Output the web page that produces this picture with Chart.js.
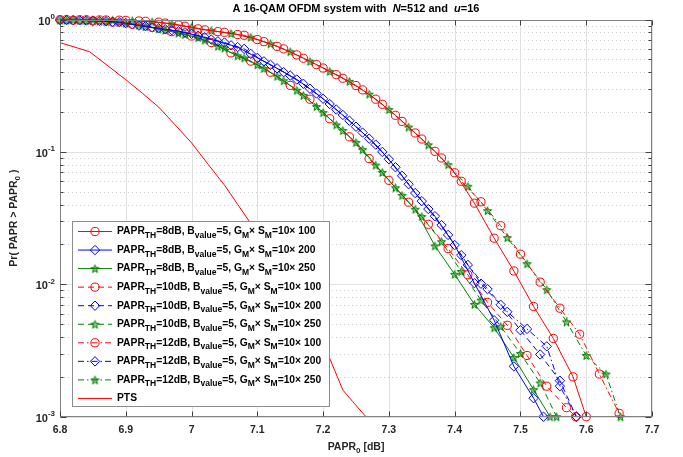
<!DOCTYPE html>
<html><head><meta charset="utf-8">
<script src="https://cdn.jsdelivr.net/npm/chart.js@4/dist/chart.umd.min.js"></script>
<style>html,body{margin:0;padding:0;background:#fff;}#wrap{width:683px;height:457px;}</style>
</head><body><div id="wrap"><canvas id="c" width="683" height="457"></canvas></div>
<script>
// ---------- data ----------
const xTicks = [6.8, 6.9, 7.0, 7.1, 7.2, 7.3, 7.4, 7.5, 7.6, 7.7];
const xTickLabels = ['6.8', '6.9', '7', '7.1', '7.2', '7.3', '7.4', '7.5', '7.6', '7.7'];
const yDecades = [1, 0.1, 0.01, 0.001];
const yDecadeExps = ['0', '-1', '-2', '-3'];
const yMinorMult = [2, 3, 4, 5, 6, 7, 8, 9];

// PAPR_TH = 8 dB, 10x100 (red solid, circles)
const x1 = [6.80,6.83,6.86,6.89,6.92,6.95,6.98,7.01,7.04,7.07,7.10,7.13,7.16,7.19,7.22,7.25,7.28,7.31,7.34,7.37,7.40,7.43,7.46,7.49,7.52,7.55,7.58,7.60];
const y1 = [0.998,0.996,0.993,0.988,0.975,0.955,0.91,0.85,0.81,0.77,0.705,0.627,0.54,0.456,0.383,0.317,0.25,0.189,0.139,0.101,0.0696,0.041,0.0223,0.0126,0.0068,0.0039,0.0020,0.001];
// PAPR_TH = 8 dB, 10x200 (blue solid, diamonds)
const x2 = [6.80,6.83,6.86,6.89,6.92,6.95,6.98,7.01,7.04,7.07,7.10,7.13,7.16,7.19,7.22,7.25,7.28,7.31,7.34,7.37,7.40,7.43,7.46,7.49,7.52,7.535];
const y2 = [0.99,0.985,0.975,0.955,0.90,0.857,0.816,0.753,0.684,0.619,0.513,0.428,0.352,0.276,0.209,0.155,0.1135,0.0766,0.0489,0.0327,0.0198,0.0102,0.00535,0.0024,0.00138,0.001];
// PAPR_TH = 8 dB, 10x250 (green solid, stars)
const x3 = [6.80,6.83,6.86,6.89,6.92,6.95,6.98,7.01,7.04,7.07,7.10,7.13,7.16,7.19,7.22,7.25,7.28,7.31,7.34,7.37,7.40,7.43,7.46,7.49,7.52,7.545];
const y3 = [0.99,0.985,0.972,0.95,0.905,0.85,0.79,0.73,0.628,0.532,0.455,0.373,0.292,0.22,0.16,0.118,0.0795,0.0536,0.0369,0.0195,0.0119,0.00706,0.0047,0.0028,0.0016,0.001];
// PAPR_TH = 10 dB, 10x100 (red dashed, circles)
const x4 = [6.82,6.85,6.88,6.91,6.94,6.97,7.00,7.03,7.06,7.09,7.12,7.15,7.18,7.21,7.24,7.27,7.30,7.33,7.36,7.39,7.42,7.45,7.48,7.51,7.54,7.57,7.584];
const y4 = [0.988,0.977,0.955,0.92,0.87,0.81,0.75,0.67,0.56,0.485,0.40,0.318,0.25,0.178,0.13,0.089,0.061,0.0417,0.0284,0.0186,0.0118,0.0073,0.0049,0.0029,0.0017,0.00117,0.001];
// PAPR_TH = 10 dB, 10x200 (blue dashed, diamonds)
const x5 = [6.81,6.84,6.87,6.90,6.93,6.96,6.99,7.02,7.05,7.08,7.11,7.14,7.17,7.20,7.23,7.26,7.29,7.32,7.35,7.38,7.41,7.44,7.47,7.50,7.53,7.56,7.585];
const y5 = [0.99,0.982,0.97,0.94,0.89,0.845,0.80,0.735,0.67,0.60,0.483,0.40,0.327,0.252,0.19,0.14,0.10,0.066,0.0425,0.028,0.0166,0.0101,0.007,0.0045,0.00295,0.00187,0.001];
// PAPR_TH = 10 dB, 10x250 (green dashed, stars)
const x6 = [6.81,6.84,6.87,6.90,6.93,6.96,6.99,7.02,7.05,7.08,7.11,7.14,7.17,7.20,7.23,7.26,7.29,7.32,7.35,7.38,7.41,7.44,7.47,7.50,7.53,7.555];
const y6 = [0.99,0.982,0.965,0.935,0.885,0.83,0.77,0.70,0.61,0.513,0.427,0.345,0.267,0.198,0.145,0.104,0.070,0.047,0.0325,0.021,0.0125,0.0076,0.0048,0.003,0.0018,0.001];
// PAPR_TH = 12 dB, 10x100 (red dash-dot, circles)
const x7 = [6.81,6.84,6.87,6.90,6.93,6.96,6.99,7.02,7.05,7.08,7.11,7.14,7.17,7.20,7.23,7.26,7.29,7.32,7.35,7.38,7.41,7.44,7.47,7.50,7.53,7.56,7.59,7.62,7.65];
const y7 = [0.998,0.995,0.991,0.985,0.97,0.94,0.89,0.835,0.80,0.76,0.68,0.60,0.51,0.43,0.36,0.294,0.229,0.17,0.125,0.09,0.060,0.042,0.0277,0.0169,0.0104,0.0066,0.0042,0.0021,0.00106];
// PAPR_TH = 12 dB, 10x200 (blue dash-dot, diamonds)
const x8 = [6.82,6.85,6.88,6.91,6.94,6.97,7.00,7.03,7.06,7.09,7.12,7.15,7.18,7.21,7.24,7.27,7.30,7.33,7.36,7.39,7.42,7.45,7.48,7.51,7.54,7.56,7.585];
const y8 = [0.988,0.978,0.96,0.92,0.875,0.83,0.78,0.706,0.638,0.55,0.455,0.377,0.30,0.23,0.172,0.126,0.088,0.057,0.037,0.0236,0.014,0.0092,0.0062,0.0046,0.0034,0.0017,0.001];
// PAPR_TH = 12 dB, 10x250 (green dash-dot, stars)
const x9 = [6.82,6.85,6.88,6.91,6.94,6.97,7.00,7.03,7.06,7.09,7.12,7.15,7.18,7.21,7.24,7.27,7.30,7.33,7.36,7.39,7.42,7.45,7.48,7.51,7.54,7.57,7.60,7.63,7.652];
const y9 = [0.997,0.994,0.99,0.98,0.96,0.925,0.875,0.825,0.785,0.735,0.656,0.571,0.483,0.406,0.341,0.273,0.209,0.154,0.113,0.080,0.055,0.036,0.0225,0.0143,0.0091,0.0052,0.0029,0.0021,0.001];
// PTS
const xPTS = [6.80,6.82,6.845,6.87,6.90,6.925,6.95,6.975,7.00,7.025,7.05,7.07,7.09,7.115,7.14,7.165,7.19,7.21,7.23,7.245,7.265];
const yPTS = [0.668,0.624,0.571,0.458,0.351,0.278,0.218,0.16,0.117,0.0807,0.0562,0.0402,0.0288,0.0174,0.0106,0.0069,0.0045,0.00276,0.00159,0.0013,0.001];

const legendTH = ['8','8','8','10','10','10','12','12','12'];
const legendSize = ['100','200','250','100','200','250','100','200','250'];
const titleParts = ['A 16-QAM OFDM system with  ', 'N', '=512 and  ', 'u', '=16'];

// ---------- styles ----------
const RED = '#ff0000', BLUE = '#0000ff', GREEN = '#008000';
const SOLID = [], DASH = [6, 4], DASHDOT = [6, 3, 1.5, 3];
const FONT = '"Liberation Sans", Arial, Helvetica, sans-serif';

function pentagram(color) {
  const s = 11, cv = document.createElement('canvas');
  cv.width = s; cv.height = s;
  const g = cv.getContext('2d');
  g.translate(s / 2, s / 2 + 0.5);
  g.beginPath();
  for (let i = 0; i < 10; i++) {
    const r = i % 2 ? 1.8 : 4.3;
    const a = -Math.PI / 2 + i * Math.PI / 5;
    g.lineTo(r * Math.cos(a), r * Math.sin(a));
  }
  g.closePath();
  g.fillStyle = 'rgba(0,128,0,0.45)'; g.fill();
  g.strokeStyle = color; g.lineWidth = 1; g.stroke();
  return cv;
}
const STAR = pentagram(GREEN);

const seriesDefs = [
  [x1, y1, RED, SOLID, 'circle', 4.1],
  [x2, y2, BLUE, SOLID, 'rectRot', 4.7],
  [x3, y3, GREEN, SOLID, STAR, 5],
  [x4, y4, RED, DASH, 'circle', 4.1],
  [x5, y5, BLUE, DASH, 'rectRot', 4.7],
  [x6, y6, GREEN, DASH, STAR, 5],
  [x7, y7, RED, DASHDOT, 'circle', 4.1],
  [x8, y8, BLUE, DASHDOT, 'rectRot', 4.7],
  [x9, y9, GREEN, DASHDOT, STAR, 5],
  [xPTS, yPTS, RED, SOLID, 'circle', 0]
];

const datasets = seriesDefs.map(([xs, ys, col, dash, ps, r]) => ({
  data: xs.map((x, i) => ({ x: x, y: ys[i] })),
  borderColor: col, backgroundColor: 'rgba(0,0,0,0)',
  borderWidth: 1, borderDash: dash,
  pointStyle: ps, pointRadius: r, pointHoverRadius: r,
  pointBorderColor: col, pointBackgroundColor: 'rgba(0,0,0,0)', pointBorderWidth: 1,
  showLine: true, tension: 0, clip: false
}));

// rich text helper: segments {t, sub, sup, it}
function segFont(s, size, subSize) {
  return (s.it ? 'italic ' : '') + 'bold ' + ((s.sub || s.sup) ? subSize : size) + 'px ' + FONT;
}
function richWidth(ctx, segs, size, subSize) {
  let w = 0;
  segs.forEach(s => { ctx.font = segFont(s, size, subSize); w += ctx.measureText(s.t).width; });
  return w;
}
function drawRich(ctx, segs, x, y, size, subSize, align) {
  const w = richWidth(ctx, segs, size, subSize);
  let cx = align === 'center' ? x - w / 2 : (align === 'right' ? x - w : x);
  ctx.textAlign = 'left'; ctx.textBaseline = 'middle';
  segs.forEach(s => {
    ctx.font = segFont(s, size, subSize);
    const dy = s.sub ? size * 0.4 : (s.sup ? -size * 0.42 : 0);
    ctx.fillText(s.t, cx, y + dy);
    cx += ctx.measureText(s.t).width;
  });
  return w;
}

const decor = {
  id: 'decor',
  beforeDatasetsDraw(chart) {
    const ctx = chart.ctx, a = chart.chartArea, sx = chart.scales.x, sy = chart.scales.y;
    ctx.save();
    ctx.lineWidth = 1;
    ctx.strokeStyle = '#cfcfcf'; ctx.setLineDash([1, 3]);
    yDecades.slice(1).forEach(d => {
      yMinorMult.forEach(m => {
        const py = Math.round(sy.getPixelForValue(d * m)) + 0.5;
        ctx.beginPath(); ctx.moveTo(a.left, py); ctx.lineTo(a.right, py); ctx.stroke();
      });
    });
    ctx.setLineDash([]);
    ctx.strokeStyle = '#e0e0e0';
    xTicks.forEach(v => {
      const px = Math.round(sx.getPixelForValue(v)) + 0.5;
      ctx.beginPath(); ctx.moveTo(px, a.top); ctx.lineTo(px, a.bottom); ctx.stroke();
    });
    yDecades.forEach(d => {
      const py = Math.round(sy.getPixelForValue(d)) + 0.5;
      ctx.beginPath(); ctx.moveTo(a.left, py); ctx.lineTo(a.right, py); ctx.stroke();
    });
    ctx.restore();
  },
  afterDatasetsDraw(chart) {
    const ctx = chart.ctx, a = chart.chartArea, sx = chart.scales.x, sy = chart.scales.y;
    ctx.save();
    ctx.strokeStyle = '#808080'; ctx.lineWidth = 1; ctx.setLineDash([]);
    const L = Math.round(a.left) + 0.5, R = Math.round(a.right) - 0.5, T = Math.round(a.top) + 0.5, B = Math.round(a.bottom) - 0.5;
    ctx.strokeRect(L, T, R - L, B - T);
    ctx.strokeStyle = '#404040';
    xTicks.forEach(v => {
      const px = Math.round(sx.getPixelForValue(v)) + 0.5;
      ctx.beginPath(); ctx.moveTo(px, B); ctx.lineTo(px, B - 5); ctx.moveTo(px, T); ctx.lineTo(px, T + 5); ctx.stroke();
    });
    yDecades.forEach(d => {
      const py = Math.round(sy.getPixelForValue(d)) + 0.5;
      ctx.beginPath(); ctx.moveTo(L, py); ctx.lineTo(L + 6, py); ctx.moveTo(R, py); ctx.lineTo(R - 6, py); ctx.stroke();
    });
    yDecades.slice(1).forEach(d => {
      yMinorMult.forEach(m => {
        const py = Math.round(sy.getPixelForValue(d * m)) + 0.5;
        ctx.beginPath(); ctx.moveTo(L, py); ctx.lineTo(L + 3, py); ctx.moveTo(R, py); ctx.lineTo(R - 3, py); ctx.stroke();
      });
    });
    // tick labels
    ctx.fillStyle = '#262626';
    ctx.font = 'bold 10.5px ' + FONT; ctx.textAlign = 'center'; ctx.textBaseline = 'middle';
    xTicks.forEach((v, i) => ctx.fillText(xTickLabels[i], sx.getPixelForValue(v), a.bottom + 13));
    yDecades.forEach((d, i) => {
      drawRich(ctx, [{ t: '10' }, { t: yDecadeExps[i], sup: true }], a.left - 5, sy.getPixelForValue(d) + 2, 11, 8, 'right');
    });
    // axis titles
    drawRich(ctx, [{ t: 'PAPR' }, { t: '0', sub: true }, { t: ' [dB]' }], (a.left + a.right) / 2, a.bottom + 30, 10.5, 8, 'center');
    ctx.save();
    ctx.translate(14, (a.top + a.bottom) / 2); ctx.rotate(-Math.PI / 2);
    drawRich(ctx, [{ t: 'Pr( PAPR > PAPR' }, { t: '0', sub: true }, { t: ' )' }], 0, 0, 10.5, 8, 'center');
    ctx.restore();
    // title
    ctx.fillStyle = '#000000';
    const tsegs = titleParts.map((t, i) => ({ t: t, it: i === 1 || i === 3 }));
    drawRich(ctx, tsegs, (a.left + a.right) / 2, 9, 11, 11, 'center');

    // legend
    const lx = 72, ly = 221, lw = 257, lh = 185;
    ctx.fillStyle = '#ffffff'; ctx.fillRect(lx, ly, lw, lh);
    ctx.strokeStyle = '#8c8c8c'; ctx.lineWidth = 1; ctx.strokeRect(lx + 0.5, ly + 0.5, lw, lh);
    seriesDefs.forEach((sd, i) => {
      const ry = ly + 10.5 + i * 18.55;
      ctx.save();
      ctx.strokeStyle = sd[2]; ctx.lineWidth = 1; ctx.setLineDash(sd[3]);
      ctx.beginPath(); ctx.moveTo(78, ry); ctx.lineTo(112, ry); ctx.stroke();
      ctx.setLineDash([]);
      if (sd[5] > 0) {
        ctx.fillStyle = 'rgba(0,0,0,0)';
        Chart.helpers.drawPoint(ctx, { pointStyle: sd[4], radius: sd[5], borderWidth: 1, rotation: 0 }, 95, ry);
      }
      ctx.restore();
      ctx.fillStyle = '#000000';
      let segs;
      if (i < 9) {
        segs = [{ t: 'PAPR' }, { t: 'TH', sub: true }, { t: '=' + legendTH[i] + 'dB, B' }, { t: 'value', sub: true },
          { t: '=5, G' }, { t: 'M', sub: true }, { t: '\u00d7 S' }, { t: 'M', sub: true }, { t: '=10\u00d7 ' + legendSize[i] }];
      } else {
        segs = [{ t: 'PTS' }];
      }
      drawRich(ctx, segs, 117, ry, 10.3, 8.5, 'left');
    });
    ctx.restore();
  }
};

new Chart(document.getElementById('c'), {
  type: 'scatter',
  data: { datasets: datasets },
  options: {
    responsive: false, animation: false,
    layout: { padding: { left: 60, right: 31, top: 19.5, bottom: 40.3 } },
    plugins: { legend: { display: false }, tooltip: { enabled: false }, title: { display: false } },
    scales: {
      x: { type: 'linear', min: 6.8, max: 7.7, display: false },
      y: { type: 'logarithmic', min: 0.001, max: 1, display: false }
    }
  },
  plugins: [decor]
});
</script>
</body></html>
